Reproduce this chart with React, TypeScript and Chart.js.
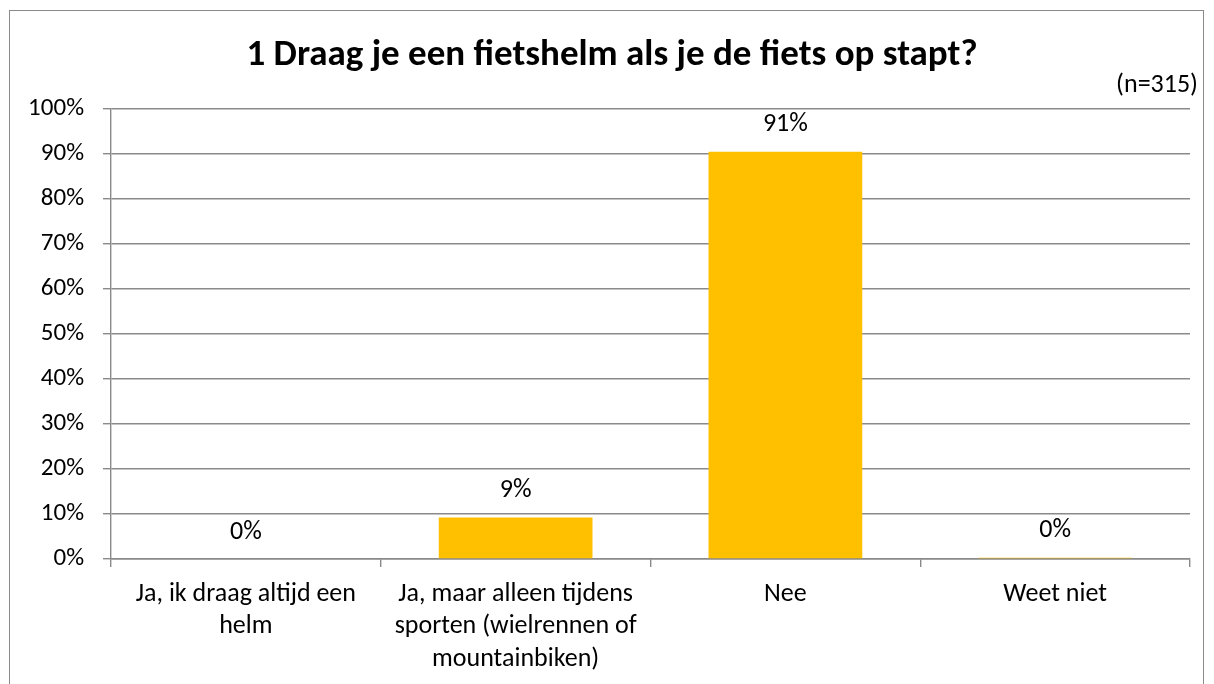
import React, { useEffect, useRef } from "react";
import { Chart, registerables } from "chart.js";

Chart.register(...registerables);

const titleText = "1 Draag je een fietshelm als je de fiets op stapt?";
const sampleText = "(n=315)";
const categories: (string | string[])[] = [
  ["Ja, ik draag altijd een", "helm"],
  ["Ja, maar alleen tijdens", "sporten (wielrennen of", "mountainbiken)"],
  "Nee",
  "Weet niet",
];
const values = [0, 9.2, 90.5, 0.3];
const yMin = 0;
const yMax = 100;
const yStep = 10;

const FONT = "Carlito, Lato, 'Open Sans', sans-serif";
const GRID = "#8a8a8a";
const BAR = "#FFC000";

const textPlugin = {
  id: "textPlugin",
  afterDatasetsDraw(chart: any) {
    const ctx = chart.ctx;
    const meta = chart.getDatasetMeta(0);
    ctx.save();
    ctx.fillStyle = "#000";
    ctx.font = `26px ${FONT}`;
    ctx.textAlign = "center";
    ctx.textBaseline = "middle";
    meta.data.forEach((bar: any, i: number) => {
      ctx.fillText(Math.round(values[i]) + "%", bar.x, bar.y - 27);
    });
    ctx.restore();
  },
  afterDraw(chart: any) {
    const ctx = chart.ctx;
    ctx.save();
    ctx.fillStyle = "#000";
    ctx.textBaseline = "middle";
    ctx.font = `bold 37px ${FONT}`;
    ctx.textAlign = "center";
    ctx.fillText(titleText, chart.width / 2 + 5, 56);
    ctx.font = `26px ${FONT}`;
    ctx.textAlign = "right";
    ctx.fillText(sampleText, chart.chartArea.right + 8, 85);
    ctx.restore();
  },
};

export default function App() {
  const ref = useRef<HTMLCanvasElement>(null);
  useEffect(() => {
    if (!ref.current) return;
    const chart = new Chart(ref.current, {
      type: "bar",
      data: {
        labels: categories,
        datasets: [
          {
            data: values,
            backgroundColor: BAR,
            borderWidth: 0,
            categoryPercentage: 1,
            barPercentage: 0.57,
          },
        ],
      },
      plugins: [textPlugin],
      options: {
        animation: false,
        responsive: false,
        maintainAspectRatio: false,
        layout: { padding: { left: 0, right: 24, top: 109, bottom: 0 } },
        plugins: {
          legend: { display: false },
          title: { display: false },
          tooltip: { enabled: false },
        },
        scales: {
          y: {
            min: yMin,
            max: yMax,
            ticks: {
              stepSize: yStep,
              callback: (v: any) => v + "%",
              color: "#000",
              font: { family: FONT, size: 25 },
              padding: 19,
            },
            grid: {
              color: GRID,
              lineWidth: 1.4,
              tickLength: 8,
              drawTicks: true,
            },
            border: { display: true, color: GRID, width: 1.4 },
            afterFit: (s: any) => {
              s.width = 111;
            },
          },
          x: {
            offset: true,
            ticks: {
              color: "#000",
              font: { family: FONT, size: 26, lineHeight: 1.25 },
              padding: 11,
              maxRotation: 0,
              autoSkip: false,
            },
            grid: {
              offset: true,
              drawOnChartArea: false,
              drawTicks: true,
              tickLength: 8,
              color: GRID,
              lineWidth: 1.4,
            },
            border: { display: true, color: GRID, width: 1.4 },
            afterFit: (s: any) => {
              s.height = 125;
            },
          },
        },
      },
    });
    return () => chart.destroy();
  }, []);
  return (
    <div
      style={{
        position: "fixed",
        left: 0,
        top: 0,
        width: 1214,
        height: 684,
        overflow: "hidden",
        background: "#fff",
      }}
    >
      <div
        style={{
          position: "absolute",
          left: 9,
          top: 10,
          width: 1195,
          height: 720,
          border: "1.4px solid #8a8a8a",
          boxSizing: "border-box",
        }}
      />
      <canvas
        ref={ref}
        width={1214}
        height={684}
        style={{ position: "absolute", left: 0, top: 0, width: 1214, height: 684 }}
      />
    </div>
  );
}
